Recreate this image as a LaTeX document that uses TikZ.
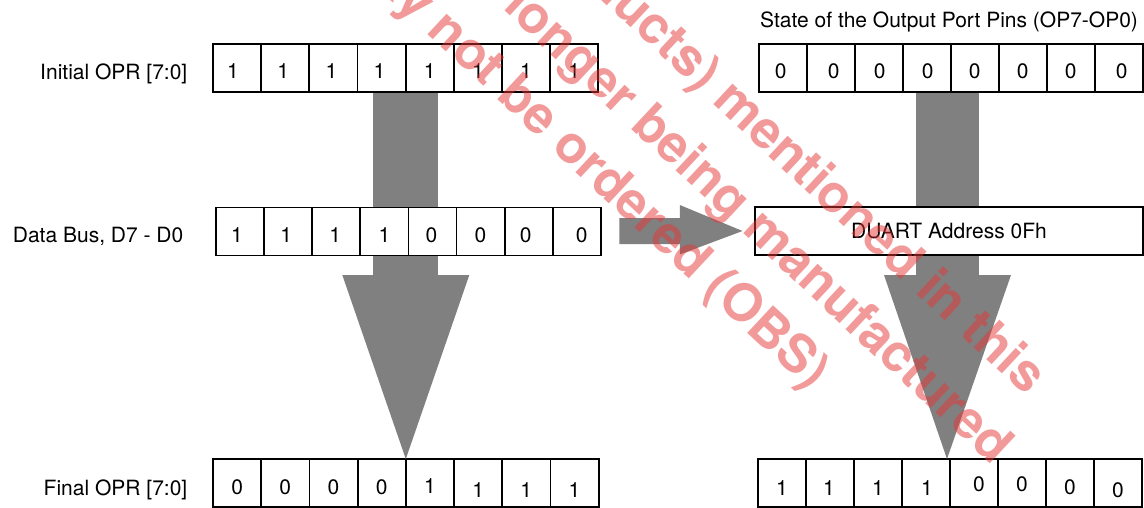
\documentclass[tikz,border=0pt]{standalone}
\usepackage{fontspec}
\setmainfont{TeX Gyre Heros}
\usetikzlibrary{calc}
\definecolor{blk}{HTML}{808080}
\definecolor{wm}{RGB}{230,55,55}
\tikzset{
  cell/.style={draw=black, fill=white, line width=1.8pt, minimum width=#1, minimum height=48pt,
    inner sep=0pt, outer sep=0pt, anchor=north west},
  cell/.default=48pt,
  digit/.style={inner sep=0pt, font=\fontsize{21}{25}\selectfont},
  lbl/.style={inner sep=0pt, font=\fontsize{21}{25}\selectfont},
  blockarrow/.style={fill=blk, draw=none},
  wmtext/.style={inner sep=0pt, anchor=west, rotate=-43, text=wm, text opacity=0.5,
    font=\fontsize{52}{60}\selectfont\bfseries}
}
\begin{document}
\begin{tikzpicture}[x=1pt, y=-1pt]
\useasboundingbox (0,0) rectangle (1144,508);
\fill[white] (0,0) rectangle (1144,508);

% ---- block arrow shafts (drawn first, cells cover them) ----
\fill[blockarrow] (372.7,92) rectangle (437.7,275.5);
\fill[blockarrow] (915.7,92) rectangle (979.3,275.5);

% ---- Left row 1: Initial OPR ----
\foreach \v/\dx [count=\i] in {1/-4,1/-2,1/-2,1/-2,1/0,1/0,1/0,1/0} {
  \node[cell=48.16pt] (L1c\i) at ({213+(\i-1)*48.16},44) {};
  \node[digit] (L1d\i) at ($(L1c\i.center)+(\dx,3)$) {\v};
}
% ---- Left row 2: Data bus ----
\foreach \v/\dx [count=\i] in {1/-3,1/-2,1/-1,1/0,0/-1,0/0,0/-3,0/5} {
  \node[cell=48.1pt] (L2c\i) at ({216+(\i-1)*48.1},207.5) {};
  \node[digit] (L2d\i) at ($(L2c\i.center)+(\dx,4)$) {\v};
}
% ---- Left row 3: Final OPR ----
\foreach \v/\dy [count=\i] in {0/4,0/4,0/4,0/4,1/3,1/7,1/7,1/7} {
  \node[cell=48.2pt] (L3c\i) at ({213+(\i-1)*48.2},459) {};
  \node[digit] (L3d\i) at ($(L3c\i.center)+(0,\dy)$) {\v};
}
% ---- Right row 1: output port pins ----
\foreach \v/\dx [count=\i] in {0/-2,0/3,0/1,0/1,0/0,0/0,0/0,0/3} {
  \node[cell=48pt] (R1c\i) at ({758.7+(\i-1)*48},44) {};
  \node[digit] (R1d\i) at ($(R1c\i.center)+(\dx,3)$) {\v};
}
% ---- Right row 3 ----
\foreach \v/\dx/\dy [count=\i] in {1/0/5,1/-1/5,1/0/5,1/1/5,0/5/1,0/0/1,0/0/4,0/0/7} {
  \node[cell=48pt] (R3c\i) at ({758+(\i-1)*48},459) {};
  \node[digit] (R3d\i) at ($(R3c\i.center)+(\dx,\dy)$) {\v};
}
% ---- DUART box ----
\node[cell=388pt, font=\fontsize{21}{25}\selectfont] (duart) at (755,207) {DUART Address 0Fh};

% ---- block arrow heads ----
\fill[blockarrow] (342.3,275) -- (469.3,275) -- (L3c4.north east) -- cycle;
\fill[blockarrow] (884,275) -- (1011,275) -- ($(R3c4.north east)+(-3,0)$) -- cycle;
\fill[blockarrow] ($(L2c8.east)+(18.5,-13.5)$) -- ($(L2c8.east)+(79,-13.5)$)
  -- ($(L2c8.east)+(79,-26.5)$) -- ($(duart.west)+(-12.5,0)$)
  -- ($(L2c8.east)+(79,23)$) -- ($(L2c8.east)+(79,12.5)$)
  -- ($(L2c8.east)+(18.5,12.5)$) -- cycle;

% ---- labels ----
\node[lbl, anchor=base east] (linit) at (187.5,79.5) {Initial OPR [7:0]};
\node[lbl, anchor=base east] (ldata) at (183.5,242.5) {Data Bus, D7 - D0};
\node[lbl, anchor=base east] (lfinal) at (187.5,495) {Final OPR [7:0]};
\node[lbl, anchor=base west] (ltitle) at (760,27.5) {State of the Output Port Pins (OP7-OP0)};

% ---- watermark ----
\begin{scope}
\clip (0,0) rectangle (1144,508);
\node[wmtext] (wmA) at (534.8,-80.7) {products) mentioned in this};
\node[wmtext] (wmB) at (454.3,-54.7) {no longer being manufactured};
\node[wmtext] (wmC) at (348.9,-57.4) {may not be ordered (OBS)};
\end{scope}
\end{tikzpicture}
\end{document}
